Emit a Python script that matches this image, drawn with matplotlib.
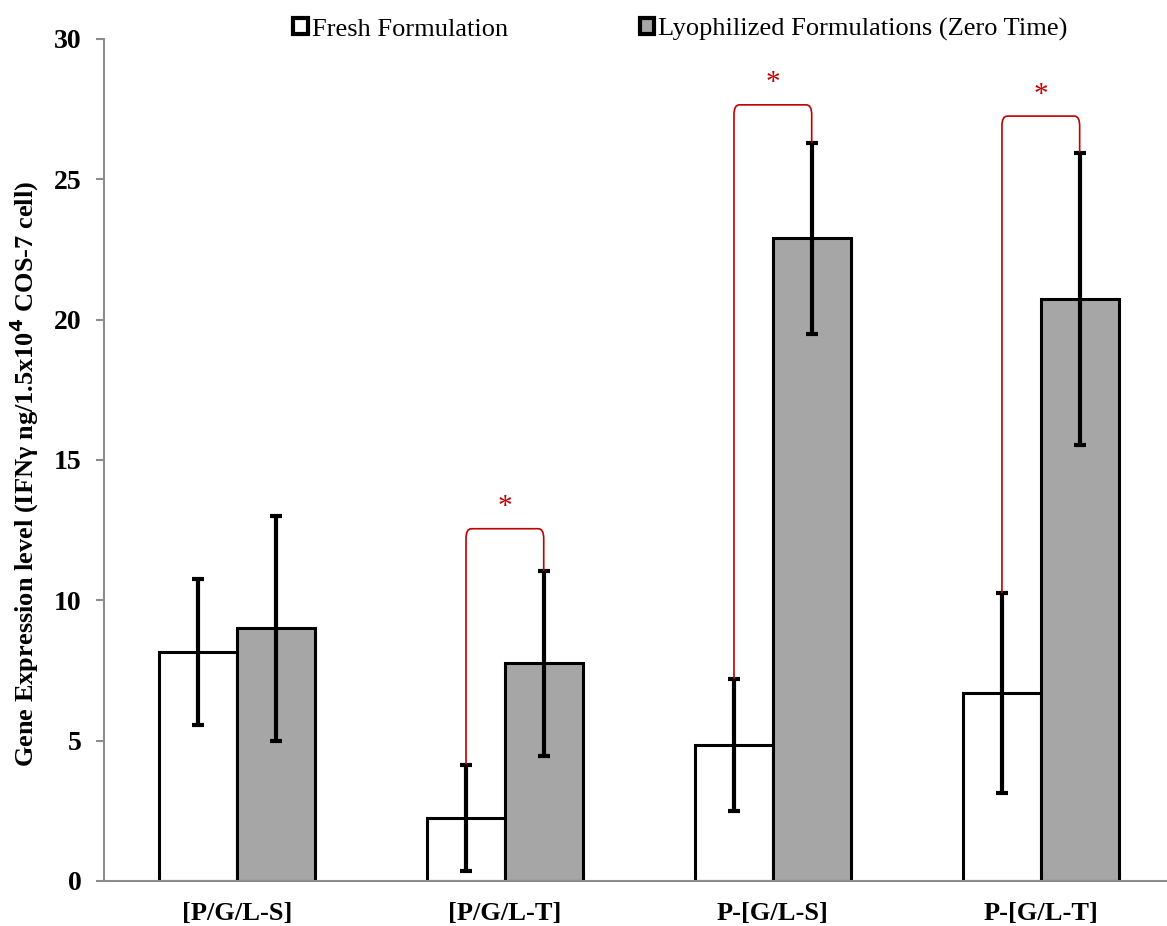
import numpy as np
import matplotlib
matplotlib.use('Agg')
import matplotlib.pyplot as plt
from matplotlib.path import Path
from matplotlib.patches import PathPatch

plt.rcParams['font.family'] = ['Liberation Serif', 'DejaVu Serif']

groups = ['[P/G/L-S]', '[P/G/L-T]', 'P-[G/L-S]', 'P-[G/L-T]']
fresh = [8.15, 2.25, 4.85, 6.7]
fresh_err = [2.6, 1.9, 2.35, 3.55]
lyo = [9.0, 7.75, 22.9, 20.75]
lyo_err = [4.0, 3.3, 3.4, 5.2]
# significance brackets: group index, bracket height
sig_groups = [1, 2, 3]
sig_levels = [12.55, 27.65, 27.25]

RED = '#C00000'
GREY = '#A6A6A6'
AXC = '#8C8C8C'

fig = plt.figure(figsize=(11.67, 9.26), dpi=100)
ax = fig.add_axes([0.0891, 0.0486, 0.91, 0.9094])

x = np.arange(len(groups)); w = 0.29
ekw = dict(elinewidth=3, capsize=4.3, capthick=3, ecolor='black')
ax.bar(x - w/2, fresh, w, color='white', edgecolor='black', lw=2.2,
       yerr=fresh_err, error_kw=ekw, label='Fresh Formulation', zorder=2)
ax.bar(x + w/2, lyo, w, color=GREY, edgecolor='black', lw=2.2,
       yerr=lyo_err, error_kw=ekw, label='Lyophilized Formulations (Zero Time)', zorder=2)

for g, lev in zip(sig_groups, sig_levels):
    x0, x1 = g - w/2, g + w/2
    y0 = fresh[g] + fresh_err[g]
    y1 = lyo[g] + lyo_err[g]
    r = 0.02; ry = 0.35
    verts = [(x0, y0), (x0, lev - ry), (x0, lev), (x0 + r, lev),
             (x1 - r, lev), (x1, lev), (x1, lev - ry), (x1, y1)]
    codes = [Path.MOVETO, Path.LINETO, Path.CURVE3, Path.CURVE3,
             Path.LINETO, Path.CURVE3, Path.CURVE3, Path.LINETO]
    ax.add_patch(PathPatch(Path(verts, codes), fill=False, edgecolor=RED, lw=1.2, zorder=3))
    ax.text(g, lev + 0.3, '*', color=RED, fontsize=21,
            ha='center', va='bottom')

ax.set_xlim(-0.496, 3.467)
ax.set_ylim(0, 30)
ax.set_yticks([0, 5, 10, 15, 20, 25, 30])
ax.set_xticks(x)
ax.set_xticklabels(groups, fontsize=19, fontweight='bold')
for t in ax.get_yticklabels():
    t.set_fontsize(20); t.set_fontweight('bold')
ax.tick_params(axis='x', length=0, pad=15)
ax.tick_params(axis='y', length=6, width=1.5, color=AXC, pad=10)
for s in ('top', 'right'):
    ax.spines[s].set_visible(False)
for s in ('left', 'bottom'):
    ax.spines[s].set_color(AXC); ax.spines[s].set_linewidth(1.5)
ax.set_ylabel('Gene Expression level (IFN\u03b3 ng/1.5x10$^{\\mathbf{4}}$ COS-7 cell)',
              fontsize=19, fontweight='bold')
ax.yaxis.set_label_coords(-0.059, 0.483)

leg = fig.legend(loc='center', bbox_to_anchor=(0.583, 0.968), ncol=2, frameon=False,
                 fontsize=19, handlelength=0.55, handleheight=0.55, handletextpad=0.15,
                 columnspacing=5.0)
for h in leg.legend_handles:
    h.set_linewidth(3)

fig.savefig('out.png')
